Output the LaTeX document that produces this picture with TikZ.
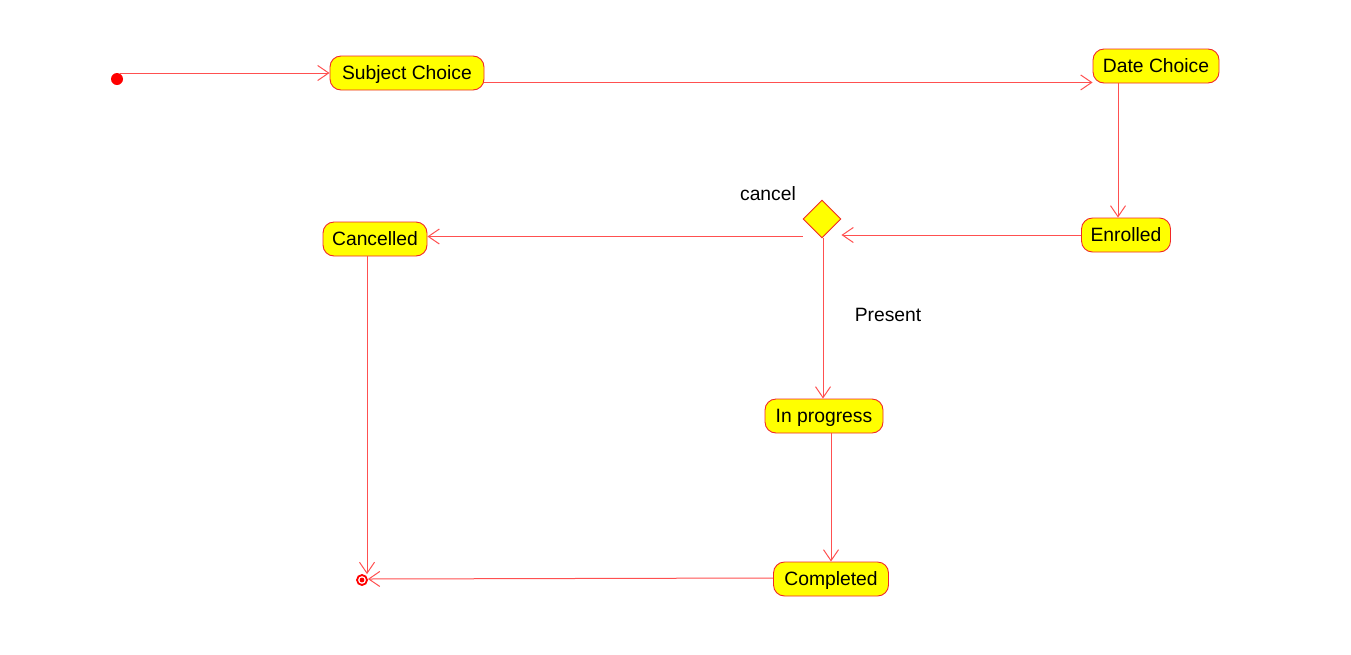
\documentclass[tikz,border=0pt]{standalone}
\usepackage{fontspec}
\setmainfont{Liberation Sans}
\usetikzlibrary{arrows.meta,shapes.geometric}
\definecolor{edgered}{RGB}{255,80,80}
\definecolor{nodered}{RGB}{240,40,40}
\definecolor{statey}{RGB}{255,255,0}
\begin{document}
\begin{tikzpicture}[x=1pt,y=-1pt,
  every node/.style={font=\fontsize{19.3pt}{23pt}\selectfont},
  statebox/.style={draw=nodered,fill=statey,line width=0.9pt,rounded corners=11pt,minimum height=34pt,inner sep=0pt,text height=13.9pt,text depth=0pt},
  tr/.style={draw=edgered,line width=1pt,-{Straight Barb[length=11pt,width=15pt,line width=1pt]}},
  lbl/.style={inner sep=0pt}]
\useasboundingbox (0,0) rectangle (1351,654);
\node[circle,fill=red,inner sep=0pt,minimum size=12pt] (st) at (117,79) {};
\node[statebox,minimum width=154pt] (sc) at (407,73) {Subject Choice};
\node[statebox,minimum width=126pt] (dc) at (1156,66) {Date Choice};
\node[statebox,minimum width=89pt] (en) at (1126,235) {Enrolled};
\node[diamond,draw=nodered,fill=statey,line width=0.9pt,minimum width=38pt,minimum height=38pt,inner sep=0pt] (dia) at (822,219) {};
\node[statebox,minimum width=104pt] (ca) at (375,239) {Cancelled};
\node[statebox,minimum width=118pt] (ip) at (824,416) {In progress};
\node[statebox,minimum width=115pt] (co) at (831,579) {Completed};
\node[circle,draw=red,line width=1.8pt,fill=white,inner sep=0pt,minimum size=10pt] (fin) at (362,580) {};
\fill[red] (fin.center) circle (2.4pt);
\node[lbl] (lc) at (768,194) {cancel};
\node[lbl] (lp) at (888,315) {Present};
\coordinate (s0) at (120,73);
\draw[tr] (s0) -- (s0 -| sc.west);
\draw[tr] ([yshift=8pt]sc.south east) coordinate (p) -- (p -| dc.west);
\draw[tr] ([xshift=-38pt]dc.south) coordinate (q) -- (q |- en.north);
\draw[tr] (en.west) -- (en.west -| dia.east);
\draw[tr] ([yshift=2.5pt]ca.east -| dia.west) -- ([yshift=2.5pt]ca.east);
\draw[tr] ([xshift=1pt]dia.south) coordinate (d) -- (d |- ip.north);
\draw[tr] (ip.south -| co.north) -- (co.north);
\draw[tr] ([xshift=-8pt]ca.south) coordinate (r) -- (r |- fin.north);
\draw[tr] ([yshift=1pt]co.west) -- ([yshift=1pt]fin.east);
\end{tikzpicture}
\end{document}
